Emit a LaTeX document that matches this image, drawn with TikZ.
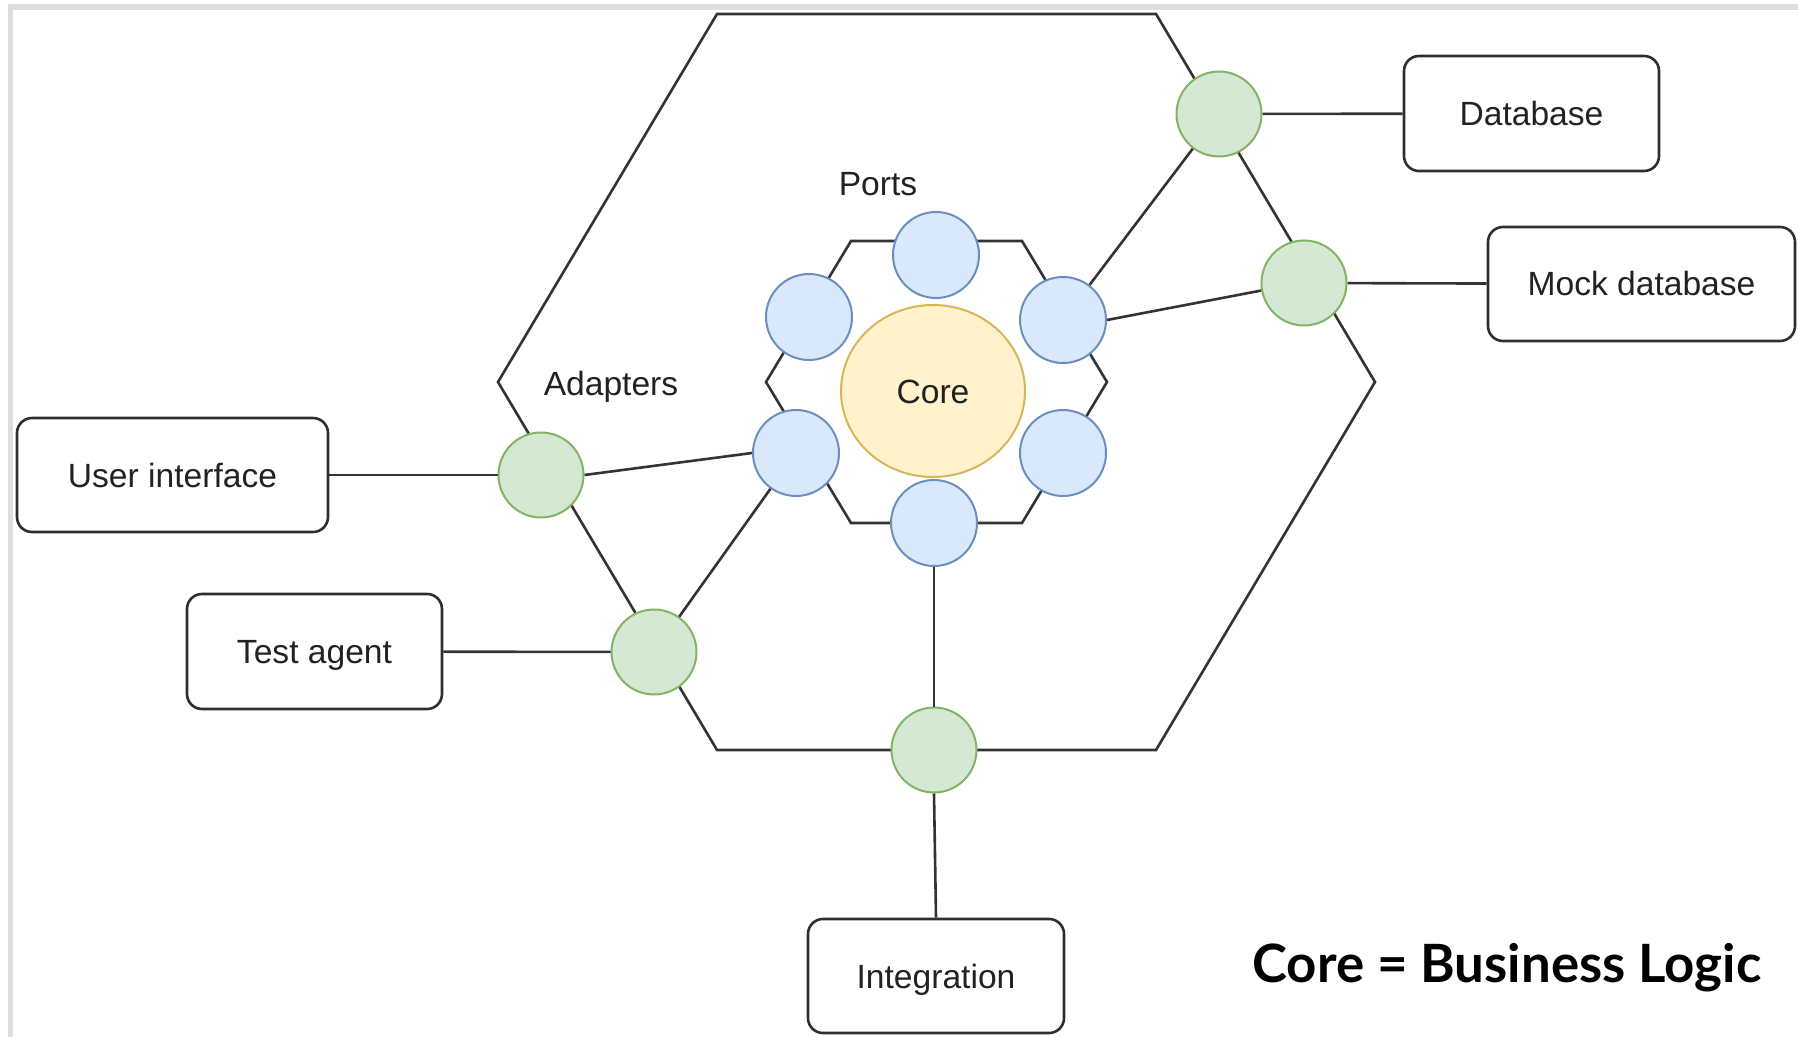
\documentclass[tikz,border=0pt]{standalone}
\usepackage{fontspec}
\setmainfont{Liberation Sans}
\newfontfamily\notefont{Lato}
\usetikzlibrary{shapes.geometric}

\definecolor{wirec}{HTML}{333333}
\definecolor{boxc}{HTML}{2E2E2E}
\definecolor{txt}{HTML}{222222}
\definecolor{framec}{HTML}{DEDEDE}
\definecolor{adfill}{HTML}{D5E8D4}
\definecolor{adstroke}{HTML}{82B366}
\definecolor{ptfill}{HTML}{DAE8FC}
\definecolor{ptstroke}{HTML}{6C8EBF}
\definecolor{corefill}{HTML}{FFF2CC}
\definecolor{corestroke}{HTML}{D6B656}

\begin{document}
\begin{tikzpicture}[x=0.5pt,y=-0.5pt,
  every node/.style={font=\fontsize{16.8}{20}\selectfont, text=txt},
  wire/.style={draw=wirec, line width=1.3pt},
  hexline/.style={draw=wirec, line width=1.3pt, line join=miter},
  adapter/.style={circle, draw=adstroke, fill=adfill, line width=1pt,
    minimum size=42.5pt, inner sep=0pt},
  port/.style={circle, draw=ptstroke, fill=ptfill, line width=1pt,
    minimum size=43pt, inner sep=0pt},
  corenode/.style={ellipse, draw=corestroke, fill=corefill, line width=1pt,
    minimum width=92pt, minimum height=86pt, inner sep=0pt,
    text height=12pt, text depth=0pt},
  extbox/.style={rectangle, rounded corners=7.5pt, draw=boxc, fill=white,
    line width=1.3pt, text height=12pt, text depth=0pt, inner sep=0pt},
  caption/.style={inner sep=0pt, anchor=base},
]
\useasboundingbox (0,0) rectangle (1798,1037);

% page frame (top and left edges)
\draw[framec, line width=2.8pt] (10.5,1037) -- (10.5,7) -- (1798,7);

% outer hexagon: adapter layer
\draw[hexline] (717,14) -- (1156,14) -- (1375,382) -- (1156,750)
  -- (717,750) -- (498,382) -- cycle;
% inner hexagon: port layer
\draw[hexline] (851,241) -- (1022,241) -- (1107,382) -- (1022,523)
  -- (851,523) -- (766,382) -- cycle;

% core
\node[corenode] (core) at (933,391) {Core};

% ports
\node[port] (pT)  at (936,255) {};
\node[port] (pUL) at (809,317) {};
\node[port] (pUR) at (1063,320) {};
\node[port] (pLL) at (796,453) {};
\node[port] (pLR) at (1063,453) {};
\node[port] (pB)  at (934,523) {};

% adapters
\node[adapter] (aDB)   at (1219,114) {};
\node[adapter] (aMock) at (1304,283) {};
\node[adapter] (aUI)   at (541,475) {};
\node[adapter] (aTest) at (654,652) {};
\node[adapter] (aInt)  at (934,750) {};

% external actors
\node[extbox, minimum width=127.5pt, minimum height=57.5pt] (bDB)   at (1531.5,113.5) {Database};
\node[extbox, minimum width=153.5pt, minimum height=57pt]   (bMock) at (1641.5,284) {Mock database};
\node[extbox, minimum width=155.5pt, minimum height=57pt]   (bUI)   at (172.5,475) {User interface};
\node[extbox, minimum width=127.5pt, minimum height=57.5pt] (bTest) at (314.5,651.5) {Test agent};
\node[extbox, minimum width=128pt, minimum height=57pt]     (bInt)  at (936,976) {Integration};

% connectors
\draw[wire] (bUI) -- (aUI);
\draw[wire] (aUI.east) -- (pLL.west);
\draw[wire] (bTest) -- (aTest);
\draw[wire] (aTest) -- (pLL);
\draw[wire] (pUR) -- (aDB);
\draw[wire] (pUR.east) -- (aMock.190);
\draw[wire] (aDB) -- (bDB);
\draw[wire] (aMock) -- (bMock);
\draw[wire] (pB) -- (aInt);
\draw[wire] (aInt.south) -- (bInt.north);

% labels
\node[caption] (lPorts) at (878,196) {Ports};
\node[caption] (lAdapters) at (611,395) {Adapters};
\node[inner sep=0pt, anchor=base west, text=black,
  font=\notefont\bfseries\fontsize{26.4}{30}\selectfont] (note) at (1252,982)
  {Core = Business Logic};
\end{tikzpicture}
\end{document}
